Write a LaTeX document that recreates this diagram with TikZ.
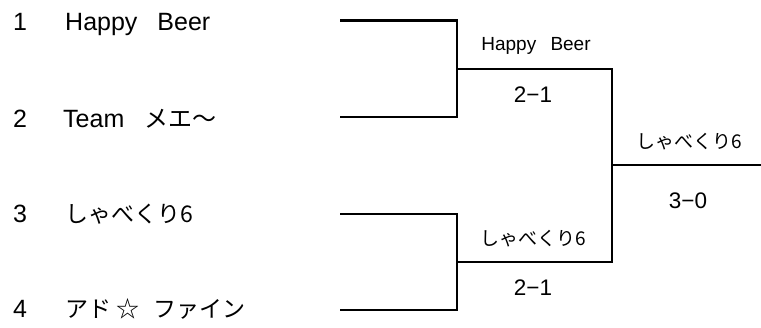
\documentclass[tikz,border=0pt]{standalone}
\usepackage{fontspec}
\setmainfont{Liberation Sans}
\newfontfamily\jp{Noto Sans CJK JP}
\begin{document}
\begin{tikzpicture}[x=1pt,y=-1pt,
  bline/.style={line width=2.7pt, line join=miter, line cap=butt},
  seed/.style={inner sep=0pt, anchor=base west, font=\fontsize{25}{30}\selectfont},
  winner/.style={inner sep=0pt, anchor=base, font=\fontsize{19}{23}\selectfont},
  score/.style={inner sep=0pt, anchor=base, font=\fontsize{22.5}{26}\selectfont}]
\useasboundingbox (0,0) rectangle (761,327);
% seeds
\node[seed] (n1) at (13,30) {1};
\node[seed] (t1) at (65,30) {Happy\hspace{0.8em}Beer};
\node[seed] (n2) at (13,127) {2};
\node[seed] (t2) at (63,127) {Team\hspace{0.8em}{\fontsize{24}{28}\jp メエ〜}};
\node[seed] (n3) at (13,222) {3};
\node[seed] (t3) at (65,222) {\fontsize{23}{28}\jp しゃべくり6};
\node[seed] (n4) at (13,317) {4};
\node[seed] (t4) at (65,317) {\fontsize{23}{28}\jp アド\hspace{0.25em}☆\hspace{0.6em}ファイン};
% coordinates
\coordinate (s1) at (340,20.3);
\coordinate (s2) at (340,117);
\coordinate (s3) at (340,214);
\coordinate (s4) at (340,310);
\coordinate (k1) at (457,20.3);
\coordinate (k2) at (457,117);
\coordinate (k3) at (457,214);
\coordinate (k4) at (457,310);
\coordinate (j1) at (457,69);
\coordinate (j2) at (457,262);
\coordinate (m1) at (612,69);
\coordinate (m2) at (612,262);
\coordinate (f) at (612,165);
\coordinate (e) at (761,165);
% lines
\draw[bline] (s1) -- (k1) -- (k2) -- (s2);
\draw[bline] (s3) -- (k3) -- (k4) -- (s4);
\draw[bline] (j1) -- (m1) -- (m2) -- (j2);
\draw[bline] (f) -- (e);
% labels
\node[winner] (w1) at (536,50.5) {Happy\hspace{0.75em}Beer};
\node[score] (r1) at (533,102) {2−1};
\node[winner] (w2) at (533,245) {\jp しゃべくり6};
\node[score] (r2) at (533,295) {2−1};
\node[winner] (w3) at (689,148) {\jp しゃべくり6};
\node[score] (r3) at (688,208) {3−0};
\end{tikzpicture}
\end{document}
